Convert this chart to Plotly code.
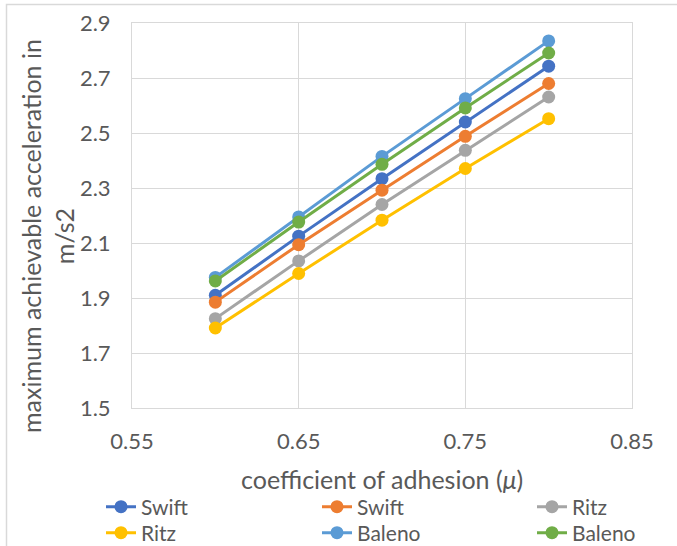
import plotly.graph_objects as go

mu = [0.6, 0.65, 0.7, 0.75, 0.8]

swift_1 = [1.910, 2.125, 2.334, 2.540, 2.743]
swift_2 = [1.885, 2.094, 2.292, 2.488, 2.680]
ritz_1 = [1.825, 2.035, 2.240, 2.437, 2.631]
ritz_2 = [1.791, 1.989, 2.183, 2.371, 2.552]
baleno_1 = [1.975, 2.195, 2.415, 2.625, 2.835]
baleno_2 = [1.962, 2.176, 2.386, 2.591, 2.791]

series = [
    ("Swift", swift_1, "#4472C4"),
    ("Swift", swift_2, "#ED7D31"),
    ("Ritz", ritz_1, "#A5A5A5"),
    ("Ritz", ritz_2, "#FFC000"),
    ("Baleno", baleno_1, "#5B9BD5"),
    ("Baleno", baleno_2, "#70AD47"),
]

FONT = "Lato"
TXT = "#595959"
GRID = "#D9D9D9"

W, H = 677, 546
L, R, T, B = 132, 45, 23, 138
PW, PH = W - L - R, H - T - B


def px(x):
    return (x - L) / PW


def py(y):
    return (H - B - y) / PH


# legend slot (left x, row centre y) for each series, in pixels
leg_slots = [(101, 507), (317, 507), (532, 507), (101, 533), (317, 533), (532, 533)]

fig = go.Figure()
leg_layout = {}
for i, (name, vals, color) in enumerate(series):
    key = "legend" if i == 0 else f"legend{i + 1}"
    fig.add_trace(go.Scatter(
        x=mu, y=vals, name=name, mode="lines+markers",
        line=dict(color=color, width=3),
        marker=dict(color=color, size=13),
        legend=key,
    ))
    lx, ly = leg_slots[i]
    leg_layout[key] = dict(
        x=px(lx), y=py(ly), xanchor="left", yanchor="middle",
        orientation="v", itemwidth=30,
        font=dict(family=FONT, size=21, color=TXT),
        bgcolor="rgba(0,0,0,0)",
    )

fig.update_layout(
    width=W, height=H,
    margin=dict(l=L, r=R, t=T, b=B, autoexpand=False),
    paper_bgcolor="white", plot_bgcolor="white",
    font=dict(family=FONT, color=TXT),
    showlegend=True,
    xaxis=dict(
        range=[0.55, 0.85], dtick=0.1, tick0=0.55, tickformat=".2f",
        showgrid=True, gridcolor=GRID, gridwidth=1,
        showline=True, linecolor=GRID, linewidth=1, mirror=True,
        zeroline=False, ticks="", ticklabelstandoff=14,
        tickfont=dict(family=FONT, size=22, color=TXT),
    ),
    yaxis=dict(
        range=[1.5, 2.9], dtick=0.2, tick0=1.5, tickformat=".1f",
        showgrid=True, gridcolor=GRID, gridwidth=1,
        showline=True, linecolor=GRID, linewidth=1, mirror=True,
        zeroline=False, ticks="", ticklabelstandoff=16,
        tickfont=dict(family=FONT, size=22, color=TXT),
    ),
    annotations=[
        dict(
            text="maximum achievable acceleration in<br>m/s2",
            xref="paper", yref="paper", x=px(47), y=py(236),
            xanchor="center", yanchor="middle", textangle=-90,
            showarrow=False, font=dict(family=FONT, size=25, color=TXT),
        ),
        dict(
            text="coefficient of adhesion (<i>μ</i>)",
            xref="paper", yref="paper", x=0.5, y=py(479),
            xanchor="center", yanchor="middle",
            showarrow=False, font=dict(family=FONT, size=25, color=TXT),
        ),
    ],
    shapes=[
        dict(type="rect", xref="paper", yref="paper",
             x0=px(6.5), x1=px(W + 50), y0=py(H + 50), y1=py(4.5),
             line=dict(color=GRID, width=1.5), layer="below"),
    ],
    **leg_layout,
)

fig.write_html("out.html")
